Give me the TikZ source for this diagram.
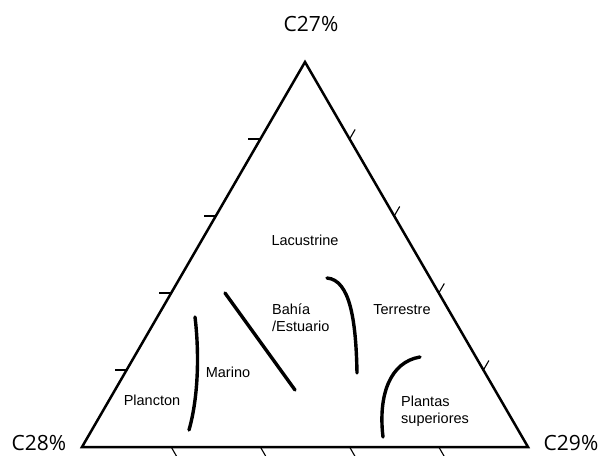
\documentclass[tikz,border=0pt]{standalone}
\usepackage{fontspec}
\setmainfont{Liberation Sans}
\newfontfamily\cornerfont{Open Sans}
\usetikzlibrary{calc}
\begin{document}
\begin{tikzpicture}[x=1pt,y=-1pt,
  region/.style={font=\fontsize{14.5}{17}\selectfont, inner sep=0pt, align=left},
  corner/.style={font=\cornerfont\fontsize{21}{24}\selectfont, inner sep=0pt},
  side/.style={line width=2.5pt, line join=miter},
  tick/.style={line width=1.1pt},
  bound/.style={line width=3.4pt, line cap=round}]
\useasboundingbox (0,0) rectangle (602,455);
\fill[white] (0,0) rectangle (602,455);
\coordinate (A) at (305,62);
\coordinate (L) at (82,447);
\coordinate (R) at (528,447);
\draw[side] (A) -- (L) -- (R) -- cycle;
% ticks
\foreach \t in {0.2,0.4,0.6,0.8} {
  \draw[tick] ($(L)!\t!(A)$) -- ++(-12,0);
  \draw[tick] ($(R)!\t!(A)$) -- ++(5.5,-9.5);
  \draw[tick] ($(L)!\t!(R)$) -- ++(5.5,9.5);
}
% corner labels
\node[corner] (c27) at (311,24) {C27\%};
\node[corner] (c28) at (39,443) {C28\%};
\node[corner] (c29) at (571,443) {C29\%};
% region labels
\node[region] (lac) at (305,240) {Lacustrine};
\node[region, anchor=west] (bah) at (272,318) {Bahía\\/Estuario};
\node[region] (ter) at (402,310) {Terrestre};
\node[region] (mar) at (228,372) {Marino};
\node[region] (pla) at (152,400) {Plancton};
\node[region, anchor=west] (sup) at (401,411) {Plantas\\superiores};
% boundaries
\draw[bound] (195,317) .. controls (199,350) and (199,395) .. (189,430);
\draw[bound] (225,293) -- (295,390);
\draw[bound] (327,278) .. controls (350,280) and (356,320) .. (357,373);
\draw[bound] (420,357) .. controls (390,362) and (378,395) .. (383,437);
\end{tikzpicture}
\end{document}
